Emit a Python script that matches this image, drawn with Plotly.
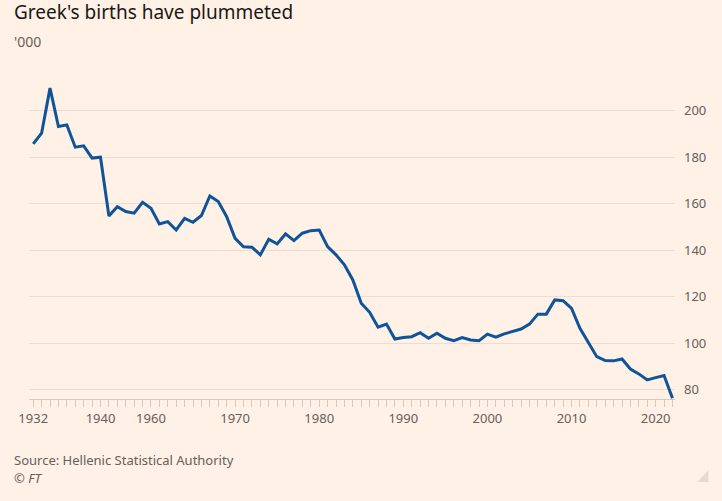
import plotly.graph_objects as go

years = list(range(1932, 1941)) + list(range(1955, 2023))
births = [
    185.8, 190.4, 209.8, 193.3, 194.0, 184.4, 185.0, 179.7, 180.1,   # 1932-1940
    154.8, 158.8, 156.7, 156.0, 160.7,                               # 1955-1959
    158.1, 151.4, 152.4, 148.8, 153.8, 152.1, 155.0, 163.4, 161.0, 154.5,  # 1960-1969
    145.2, 141.6, 141.4, 138.1, 144.8, 142.8, 147.1, 144.2, 147.4, 148.5,  # 1970-1979
    148.8, 141.6, 138.1, 133.8, 127.3, 117.3, 113.4, 107.0, 108.3, 101.9,  # 1980-1989
    102.5, 102.9, 104.6, 102.2, 104.4, 102.2, 101.2, 102.5, 101.5, 101.2,  # 1990-1999
    104.0, 102.7, 104.1, 105.1, 106.2, 108.3, 112.6, 112.6, 118.7, 118.4,  # 2000-2009
    115.1, 106.5, 100.4, 94.3, 92.6, 92.5, 93.3, 89.0, 86.9, 84.3,         # 2010-2019
    85.3, 86.2, 76.4,                                                      # 2020-2022
]
labelled_years = [1932, 1940, 1960, 1970, 1980, 1990, 2000, 2010, 2020]
y_ticks = [80, 100, 120, 140, 160, 180, 200]

cats = [str(y) for y in years]
tick_text = [str(y) if y in labelled_years else "" for y in years]

FONT = "Noto Sans"
GREY = "#66605c"

fig = go.Figure()
fig.add_trace(go.Scatter(
    x=cats, y=births, mode="lines",
    line=dict(color="#0f5499", width=3),
    hoverinfo="x+y", showlegend=False,
))

fig.update_layout(
    width=722, height=501,
    paper_bgcolor="#fff1e5", plot_bgcolor="#fff1e5",
    margin=dict(l=28.6, r=47.4, t=83, b=102),
    font=dict(family=FONT, color=GREY, size=13),
    xaxis=dict(
        type="category", range=[-0.5, 76.3],
        tickmode="array", tickvals=cats, ticktext=tick_text,
        ticks="outside", ticklen=7, tickwidth=1, tickcolor="#d6c9bd",
        showgrid=False, showline=True, linecolor="#d6c9bd", linewidth=1,
        tickfont=dict(family=FONT, size=13, color=GREY),
        zeroline=False,
    ),
    yaxis=dict(
        side="right", range=[76.1, 212],
        tickmode="array", tickvals=y_ticks,
        showgrid=True, gridcolor="#ecddd0", gridwidth=1,
        ticks="", ticklabelstandoff=8,
        tickfont=dict(family=FONT, size=13, color=GREY),
        zeroline=False, showline=False,
    ),
)

fig.add_annotation(text="Greek's births have plummeted", xref="paper", yref="paper",
                   x=-16.6/646, y=1 + 71/316, xanchor="left", yanchor="middle",
                   showarrow=False, font=dict(family=FONT, size=19, color="#1a1817"))
fig.add_annotation(text="'000", xref="paper", yref="paper",
                   x=-16.6/646, y=1 + 41/316, xanchor="left", yanchor="middle",
                   showarrow=False, font=dict(family=FONT, size=14, color=GREY))
fig.add_annotation(text="Source: Hellenic Statistical Authority", xref="paper", yref="paper",
                   x=-16.6/646, y=-(460 - 399) / 316, xanchor="left", yanchor="middle",
                   showarrow=False, font=dict(family=FONT, size=13, color=GREY))
fig.add_annotation(text="<i>© FT</i>", xref="paper", yref="paper",
                   x=-16.6/646, y=-(478 - 399) / 316, xanchor="left", yanchor="middle",
                   showarrow=False, font=dict(family=FONT, size=13, color=GREY))
fig.add_shape(type="path", xref="paper", yref="paper",
              path="M 1.0517 -0.2627 L 1.0517 -0.2247 L 1.0347 -0.2627 Z",
              fillcolor="#e6d9cd", line=dict(width=0))

fig.write_html("out.html", config={"displayModeBar": False},
               post_script="document.body.style.margin='0';")
